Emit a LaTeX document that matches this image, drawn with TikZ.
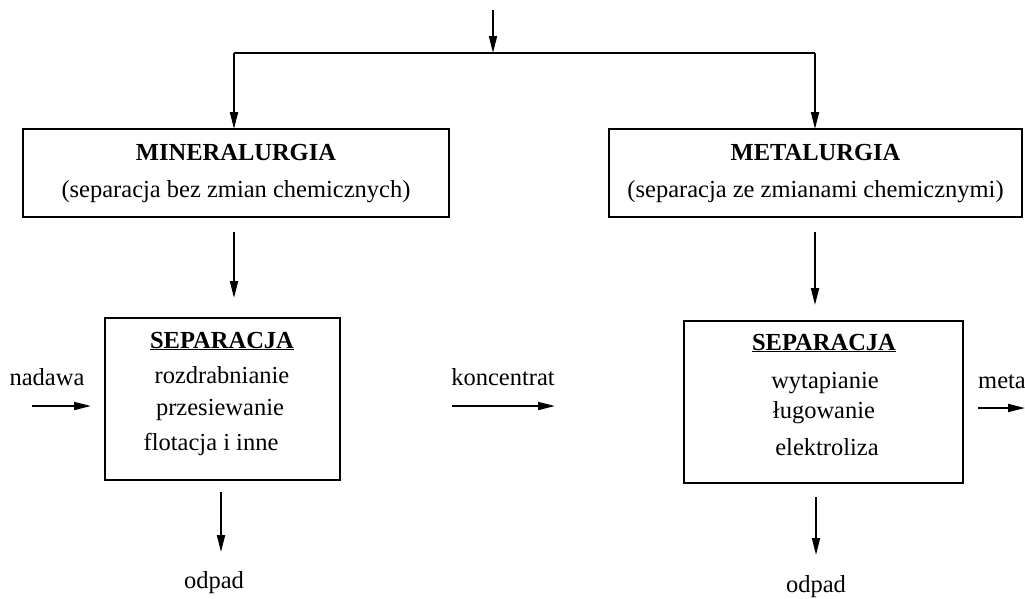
\documentclass[tikz,border=0pt]{standalone}
\usepackage{fontspec}
\setmainfont{Liberation Serif}
\usetikzlibrary{arrows.meta}
\begin{document}
\begin{tikzpicture}[x=1pt,y=-1pt,
  box/.style={draw, line width=1.6pt, inner sep=0pt, outer sep=0pt},
  lbl/.style={anchor=base, inner sep=0pt, font=\fontsize{24.5}{30}\selectfont},
  arr/.style={line width=1.8pt, -{Triangle[length=17pt,width=8pt]}},
  plain/.style={line width=1.8pt}]
\useasboundingbox (0,0) rectangle (1025,598);

% frames
\node[box, minimum width=426pt, minimum height=88pt] (min) at (236,173) {};
\node[box, minimum width=413pt, minimum height=88pt] (met) at (815.5,173) {};
\node[box, minimum width=235pt, minimum height=162pt] (sepA) at (222.5,399) {};
\node[box, minimum width=279pt, minimum height=162pt] (sepB) at (823.5,402) {};

% frame texts
\node[lbl] (minT) at (236,160) {\textbf{MINERALURGIA}};
\node[lbl] (minS) at (236,197) {(separacja bez zmian chemicznych)};
\node[lbl] (metT) at (815.5,160) {\textbf{METALURGIA}};
\node[lbl] (metS) at (815.5,197) {(separacja ze zmianami chemicznymi)};

\node[lbl] (sepAT) at (222,348) {\underline{\textbf{SEPARACJA}}};
\node[lbl] (sepA1) at (222,383) {rozdrabnianie};
\node[lbl] (sepA2) at (220,415) {przesiewanie};
\node[lbl] (sepA3) at (211,450) {flotacja i inne};

\node[lbl] (sepBT) at (824,350) {\underline{\textbf{SEPARACJA}}};
\node[lbl] (sepB1) at (825,388) {wytapianie};
\node[lbl] (sepB2) at (824,418) {ługowanie};
\node[lbl] (sepB3) at (827,455) {elektroliza};

% side labels
\node[lbl] (nad) at (47,385) {nadawa};
\node[lbl] (kon) at (503,385) {koncentrat};
\node[lbl, anchor=base west] (metl) at (978,388) {meta};
\node[lbl] (odA) at (214,588) {odpad};
\node[lbl] (odB) at (816,592) {odpad};

% feed and split
\coordinate (top) at (493,10);
\coordinate (j) at (493,53);
\coordinate (jl) at (234,53);
\coordinate (jr) at (815,53);
\draw[arr] (top) -- (j);
\draw[plain] (jl) -- (jr);
\draw[arr] (jl) -- (jl |- min.north);
\draw[arr] (jr) -- (jr |- met.north);

% between frames
\coordinate (a1) at (234,232); \coordinate (a2) at (234,298);
\coordinate (b1) at (815,232); \coordinate (b2) at (815,305);
\draw[arr] (a1) -- (a2);
\draw[arr] (b1) -- (b2);

% waste outlets
\coordinate (c1) at (221,492); \coordinate (c2) at (221,552);
\coordinate (d1) at (816,497); \coordinate (d2) at (816,555);
\draw[arr] (c1) -- (c2);
\draw[arr] (d1) -- (d2);

% horizontal flows
\coordinate (n1) at (32,406); \coordinate (n2) at (91,406);
\coordinate (k1) at (452,406); \coordinate (k2) at (555,406);
\coordinate (m1) at (978,408); \coordinate (m2) at (1025,408);
\draw[arr] (n1) -- (n2);
\draw[arr] (k1) -- (k2);
\draw[arr] (m1) -- (m2);
\end{tikzpicture}
\end{document}
